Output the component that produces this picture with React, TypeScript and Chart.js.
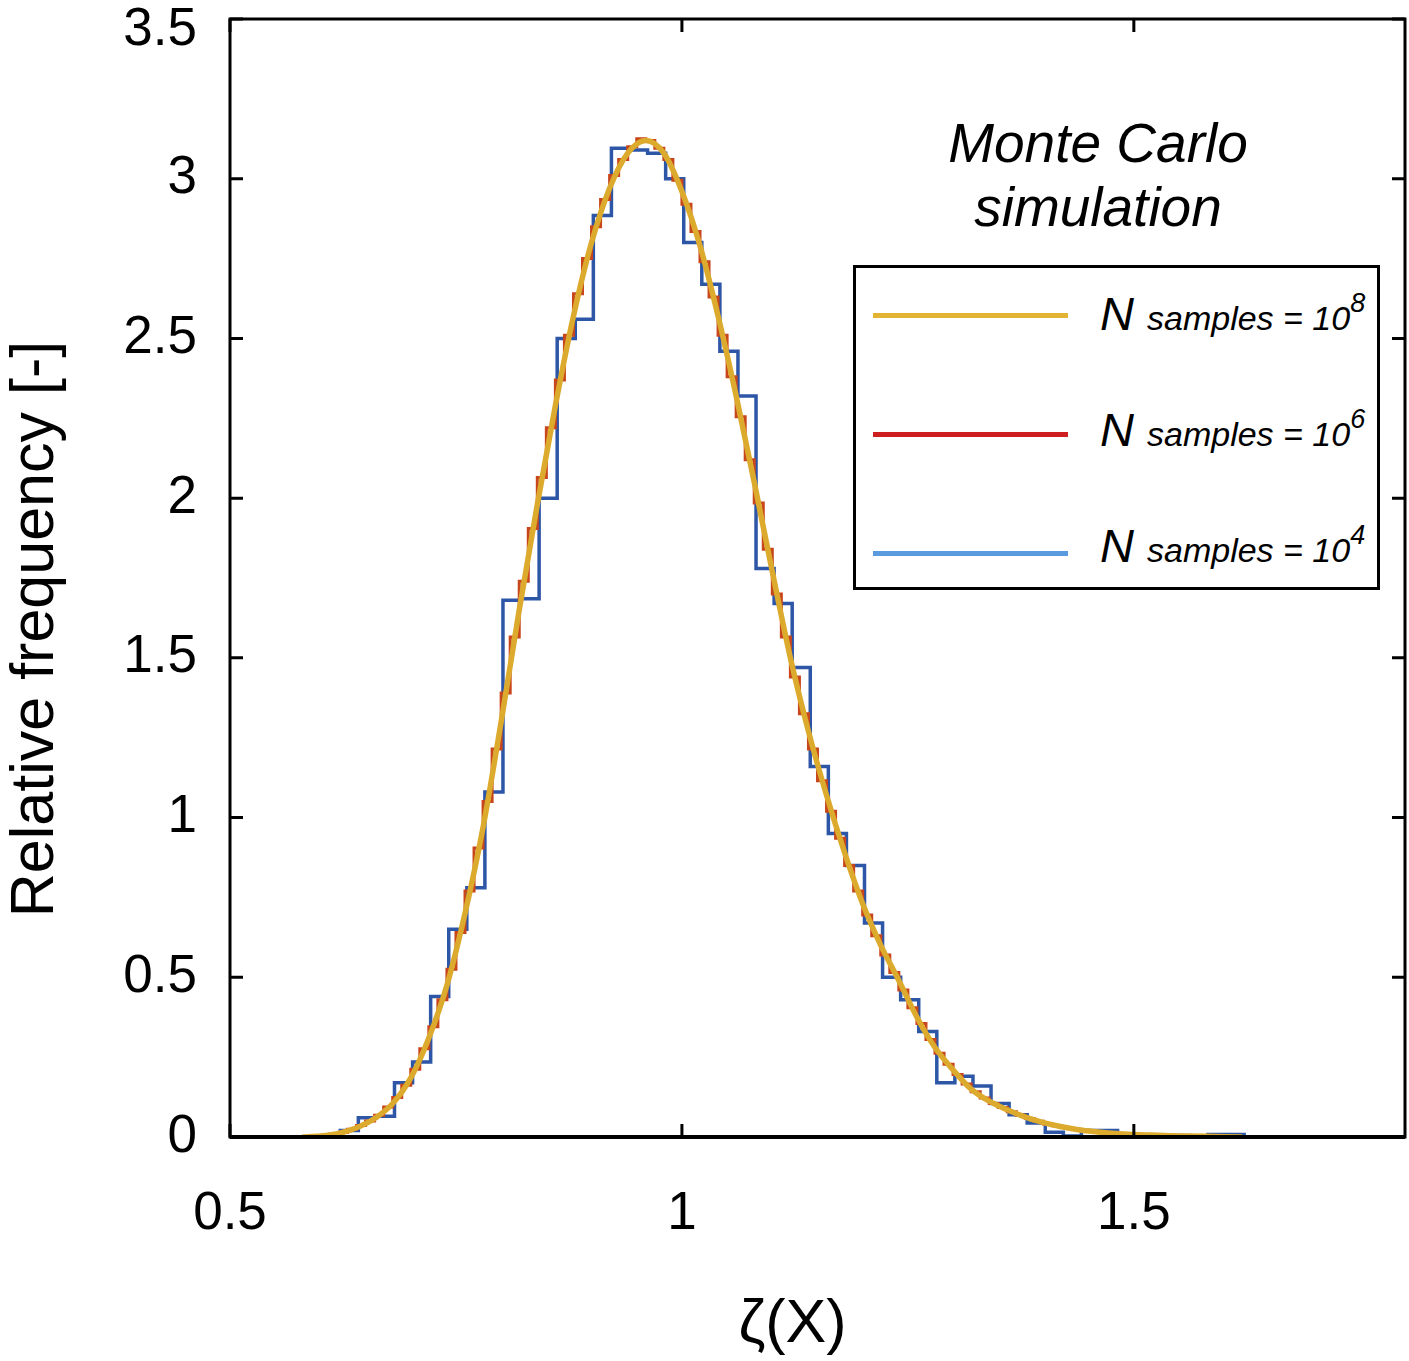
import { useEffect, useRef } from 'react';
import { Chart, registerables } from 'chart.js';

Chart.register(...registerables);

const FONT = '"Liberation Sans", Arial, Helvetica, sans-serif';

// axis ticks
const xTicks = [0.5, 1, 1.5];
const yTicks = [0, 0.5, 1, 1.5, 2, 2.5, 3, 3.5];

// N = 10^4 : histogram bin edges (width 0.02) and heights
const coarseEdges = [
  0.582, 0.602, 0.622, 0.642, 0.662, 0.682, 0.702, 0.722, 0.742, 0.762,
  0.782, 0.802, 0.822, 0.842, 0.862, 0.882, 0.902, 0.922, 0.942, 0.962,
  0.982, 1.002, 1.022, 1.042, 1.062, 1.082, 1.102, 1.122, 1.142, 1.162,
  1.182, 1.202, 1.222, 1.242, 1.262, 1.282, 1.302, 1.322, 1.342, 1.362,
  1.382, 1.402, 1.422, 1.442, 1.462, 1.482, 1.502, 1.522, 1.542, 1.562,
  1.582, 1.602, 1.622,
];
const coarseHeights = [
  0.0, 0.005, 0.02, 0.06, 0.065, 0.17, 0.235, 0.44, 0.65, 0.78,
  1.08, 1.68, 1.685, 2.0, 2.5, 2.56, 2.885, 3.095, 3.09, 3.08,
  3.0, 2.8, 2.67, 2.46, 2.32, 1.78, 1.67, 1.47, 1.16, 0.95,
  0.85, 0.67, 0.5, 0.43, 0.33, 0.17, 0.19, 0.16, 0.105, 0.07,
  0.044, 0.015, 0.003, 0.02, 0.02, 0.003, 0.003, 0.0, 0.005, 0.0,
  0.008, 0.008,
];

// N = 10^6 : histogram bin edges (width 0.01) and heights
const fineEdges = [
  0.58, 0.59, 0.6, 0.61, 0.62, 0.63, 0.64, 0.65, 0.66, 0.67,
  0.68, 0.69, 0.7, 0.71, 0.72, 0.73, 0.74, 0.75, 0.76, 0.77,
  0.78, 0.79, 0.8, 0.81, 0.82, 0.83, 0.84, 0.85, 0.86, 0.87,
  0.88, 0.89, 0.9, 0.91, 0.92, 0.93, 0.94, 0.95, 0.96, 0.97,
  0.98, 0.99, 1.0, 1.01, 1.02, 1.03, 1.04, 1.05, 1.06, 1.07,
  1.08, 1.09, 1.1, 1.11, 1.12, 1.13, 1.14, 1.15, 1.16, 1.17,
  1.18, 1.19, 1.2, 1.21, 1.22, 1.23, 1.24, 1.25, 1.26, 1.27,
  1.28, 1.29, 1.3, 1.31, 1.32, 1.33, 1.34, 1.35, 1.36, 1.37,
  1.38, 1.39, 1.4, 1.41, 1.42, 1.43, 1.44, 1.45, 1.46, 1.47,
  1.48, 1.49, 1.5, 1.51, 1.52, 1.53, 1.54, 1.55, 1.56, 1.57,
  1.58, 1.59, 1.6, 1.61, 1.62,
];
const fineHeights = [
  0.001, 0.002, 0.005, 0.009, 0.014, 0.024, 0.036, 0.05, 0.068, 0.094,
  0.124, 0.162, 0.212, 0.276, 0.345, 0.43, 0.525, 0.64, 0.77, 0.905,
  1.05, 1.215, 1.39, 1.565, 1.74, 1.905, 2.065, 2.22, 2.37, 2.51,
  2.64, 2.75, 2.85, 2.935, 3.01, 3.06, 3.1, 3.125, 3.12, 3.095,
  3.06, 2.995, 2.92, 2.835, 2.74, 2.63, 2.51, 2.38, 2.255, 2.12,
  1.985, 1.84, 1.7, 1.565, 1.44, 1.325, 1.215, 1.115, 1.02, 0.935,
  0.85, 0.77, 0.695, 0.63, 0.57, 0.515, 0.46, 0.405, 0.355, 0.305,
  0.262, 0.228, 0.196, 0.166, 0.142, 0.122, 0.105, 0.092, 0.079, 0.068,
  0.058, 0.049, 0.041, 0.035, 0.03, 0.025, 0.021, 0.018, 0.015, 0.013,
  0.011, 0.009, 0.008, 0.007, 0.006, 0.005, 0.004, 0.003, 0.003, 0.002,
  0.002, 0.001, 0.001, 0.0,
];

// N = 10^8 : smooth density
const smoothX = [
  0.58, 0.6, 0.62, 0.64, 0.66, 0.68, 0.7, 0.72, 0.74, 0.76,
  0.78, 0.8, 0.82, 0.84, 0.86, 0.88, 0.9, 0.92, 0.94, 0.96,
  0.98, 1.0, 1.02, 1.04, 1.06, 1.08, 1.1, 1.12, 1.14, 1.16,
  1.18, 1.2, 1.22, 1.24, 1.26, 1.28, 1.3, 1.32, 1.34, 1.36,
  1.38, 1.4, 1.42, 1.44, 1.46, 1.48, 1.5, 1.52, 1.54, 1.56,
  1.58, 1.6, 1.62,
];
const smoothY = [
  0.0, 0.003, 0.011, 0.029, 0.058, 0.105, 0.185, 0.31, 0.475, 0.7,
  0.97, 1.3, 1.65, 1.98, 2.29, 2.57, 2.8, 2.97, 3.08, 3.12,
  3.08, 2.96, 2.79, 2.57, 2.32, 2.05, 1.77, 1.5, 1.27, 1.07,
  0.89, 0.73, 0.6, 0.49, 0.375, 0.28, 0.21, 0.15, 0.112, 0.085,
  0.062, 0.045, 0.032, 0.022, 0.016, 0.011, 0.008, 0.006, 0.004, 0.003,
  0.002, 0.001, 0.0,
];

const legendItems = [
  { color: '#e3b433', exp: '8' },
  { color: '#cd1f1f', exp: '6' },
  { color: '#5a9be0', exp: '4' },
];

function stairs(edges: number[], heights: number[]) {
  const pts = [{ x: edges[0], y: 0 }];
  heights.forEach((h, i) => pts.push({ x: edges[i], y: h }));
  const last = edges[edges.length - 1];
  pts.push({ x: last, y: heights[heights.length - 1] });
  pts.push({ x: last, y: 0 });
  return pts;
}

const framePlugin = {
  id: 'frame',
  afterDatasetsDraw(chart: any) {
    const { ctx, chartArea: a, scales } = chart;
    ctx.save();
    ctx.strokeStyle = '#000';
    ctx.lineWidth = 3;
    ctx.strokeRect(a.left, a.top, a.right - a.left, a.bottom - a.top);
    ctx.beginPath();
    xTicks.forEach((v) => {
      const px = scales.x.getPixelForValue(v);
      ctx.moveTo(px, a.bottom);
      ctx.lineTo(px, a.bottom - 13);
      ctx.moveTo(px, a.top);
      ctx.lineTo(px, a.top + 13);
    });
    yTicks.forEach((v) => {
      const py = scales.y.getPixelForValue(v);
      ctx.moveTo(a.left, py);
      ctx.lineTo(a.left + 13, py);
      ctx.moveTo(a.right, py);
      ctx.lineTo(a.right - 13, py);
    });
    ctx.stroke();
    // heavier bottom axis, as in the original
    ctx.lineWidth = 4;
    ctx.beginPath();
    ctx.moveTo(a.left, a.bottom);
    ctx.lineTo(a.right, a.bottom);
    ctx.stroke();

    // axis titles
    ctx.fillStyle = '#000';
    ctx.font = `61px ${FONT}`;
    ctx.textAlign = 'center';
    ctx.textBaseline = 'middle';
    ctx.fillText('ζ(X)', (a.left + a.right) / 2 - 25, a.bottom + 188);
    ctx.translate(36, (a.top + a.bottom) / 2 + 51);
    ctx.rotate(-Math.PI / 2);
    ctx.fillText('Relative frequency [-]', 0, 0);
    ctx.restore();
  },
};

export default function App() {
  const canvasRef = useRef<HTMLCanvasElement>(null);

  useEffect(() => {
    if (!canvasRef.current) return;
    Chart.defaults.font.family = FONT;
    const topTick = yTicks[yTicks.length - 1];
    const chart = new Chart(canvasRef.current, {
      type: 'line',
      data: {
        datasets: [
          {
            label: 'N samples = 10^8',
            data: smoothX.map((x, i) => ({ x, y: smoothY[i] })),
            borderColor: '#dcaa2c',
            borderWidth: 5.5,
            pointRadius: 0,
            cubicInterpolationMode: 'monotone',
            order: 1,
          },
          {
            label: 'N samples = 10^6',
            data: stairs(fineEdges, fineHeights),
            borderColor: '#c8461c',
            borderWidth: 3,
            pointRadius: 0,
            stepped: 'before',
            order: 2,
          },
          {
            label: 'N samples = 10^4',
            data: stairs(coarseEdges, coarseHeights),
            borderColor: '#2e56a6',
            borderWidth: 3.5,
            pointRadius: 0,
            stepped: 'before',
            order: 3,
          },
        ],
      },
      options: {
        animation: false,
        responsive: true,
        maintainAspectRatio: false,
        layout: { padding: { top: 19, right: 4, left: 0, bottom: 0 } },
        plugins: { legend: { display: false }, tooltip: { enabled: false } },
        scales: {
          x: {
            type: 'linear',
            min: 0.5,
            max: 1.8,
            grid: { display: false, drawTicks: false },
            border: { display: false },
            afterBuildTicks: (s: any) => {
              s.ticks = xTicks.map((value) => ({ value }));
            },
            afterFit: (s: any) => {
              s.height = 224;
              s.paddingLeft = 0;
              s.paddingRight = 0;
            },
            ticks: {
              padding: 46,
              maxRotation: 0,
              autoSkip: false,
              color: '#000',
              font: { size: 53 },
              callback: (v: any) => `${v}`,
            },
          },
          y: {
            type: 'linear',
            min: 0,
            max: 3.5,
            grid: { display: false, drawTicks: false },
            border: { display: false },
            afterBuildTicks: (s: any) => {
              s.ticks = yTicks.map((value) => ({ value }));
            },
            afterFit: (s: any) => {
              s.width = 230;
              s.paddingTop = 0;
              s.paddingBottom = 0;
            },
            ticks: {
              padding: 33,
              autoSkip: false,
              color: '#000',
              // the top label sits a little below its tick so it stays inside the page
              font: (c: any) =>
                c.tick && c.tick.value === topTick
                  ? { size: 53, lineHeight: 0.42 }
                  : { size: 53 },
              callback: (v: any) => (v === topTick ? ['', `${v}`] : `${v}`),
            },
          },
        },
      },
      plugins: [framePlugin],
    } as any);
    return () => chart.destroy();
  }, []);

  return (
    <div
      style={{
        position: 'absolute',
        left: 0,
        top: 0,
        width: 1409,
        height: 1361,
        background: '#fff',
        fontFamily: FONT,
        color: '#000',
      }}
    >
      <canvas ref={canvasRef} style={{ display: 'block' }} />
      <div
        style={{
          position: 'absolute',
          left: 848,
          width: 500,
          top: 111,
          textAlign: 'center',
          fontSize: 55,
          lineHeight: '64px',
          fontStyle: 'italic',
          whiteSpace: 'nowrap',
        }}
      >
        Monte Carlo
        <br />
        simulation
      </div>
      <div
        style={{
          position: 'absolute',
          left: 853,
          top: 265,
          width: 527,
          height: 325,
          border: '3px solid #000',
          boxSizing: 'border-box',
          background: '#fff',
        }}
      >
        {legendItems.map((item, i) => (
          <div key={item.exp}>
            <div
              style={{
                position: 'absolute',
                left: 17,
                top: 45 + i * 119,
                width: 195,
                height: 5,
                background: item.color,
              }}
            />
            <div
              style={{
                position: 'absolute',
                left: 244,
                top: 22 + i * 116,
                fontSize: 47,
                lineHeight: '47px',
                fontStyle: 'italic',
                whiteSpace: 'nowrap',
              }}
            >
              N{' '}
              <span style={{ fontSize: 34 }}>
                samples = 10
                <span style={{ fontSize: 27, position: 'relative', top: -18 }}>{item.exp}</span>
              </span>
            </div>
          </div>
        ))}
      </div>
    </div>
  );
}
